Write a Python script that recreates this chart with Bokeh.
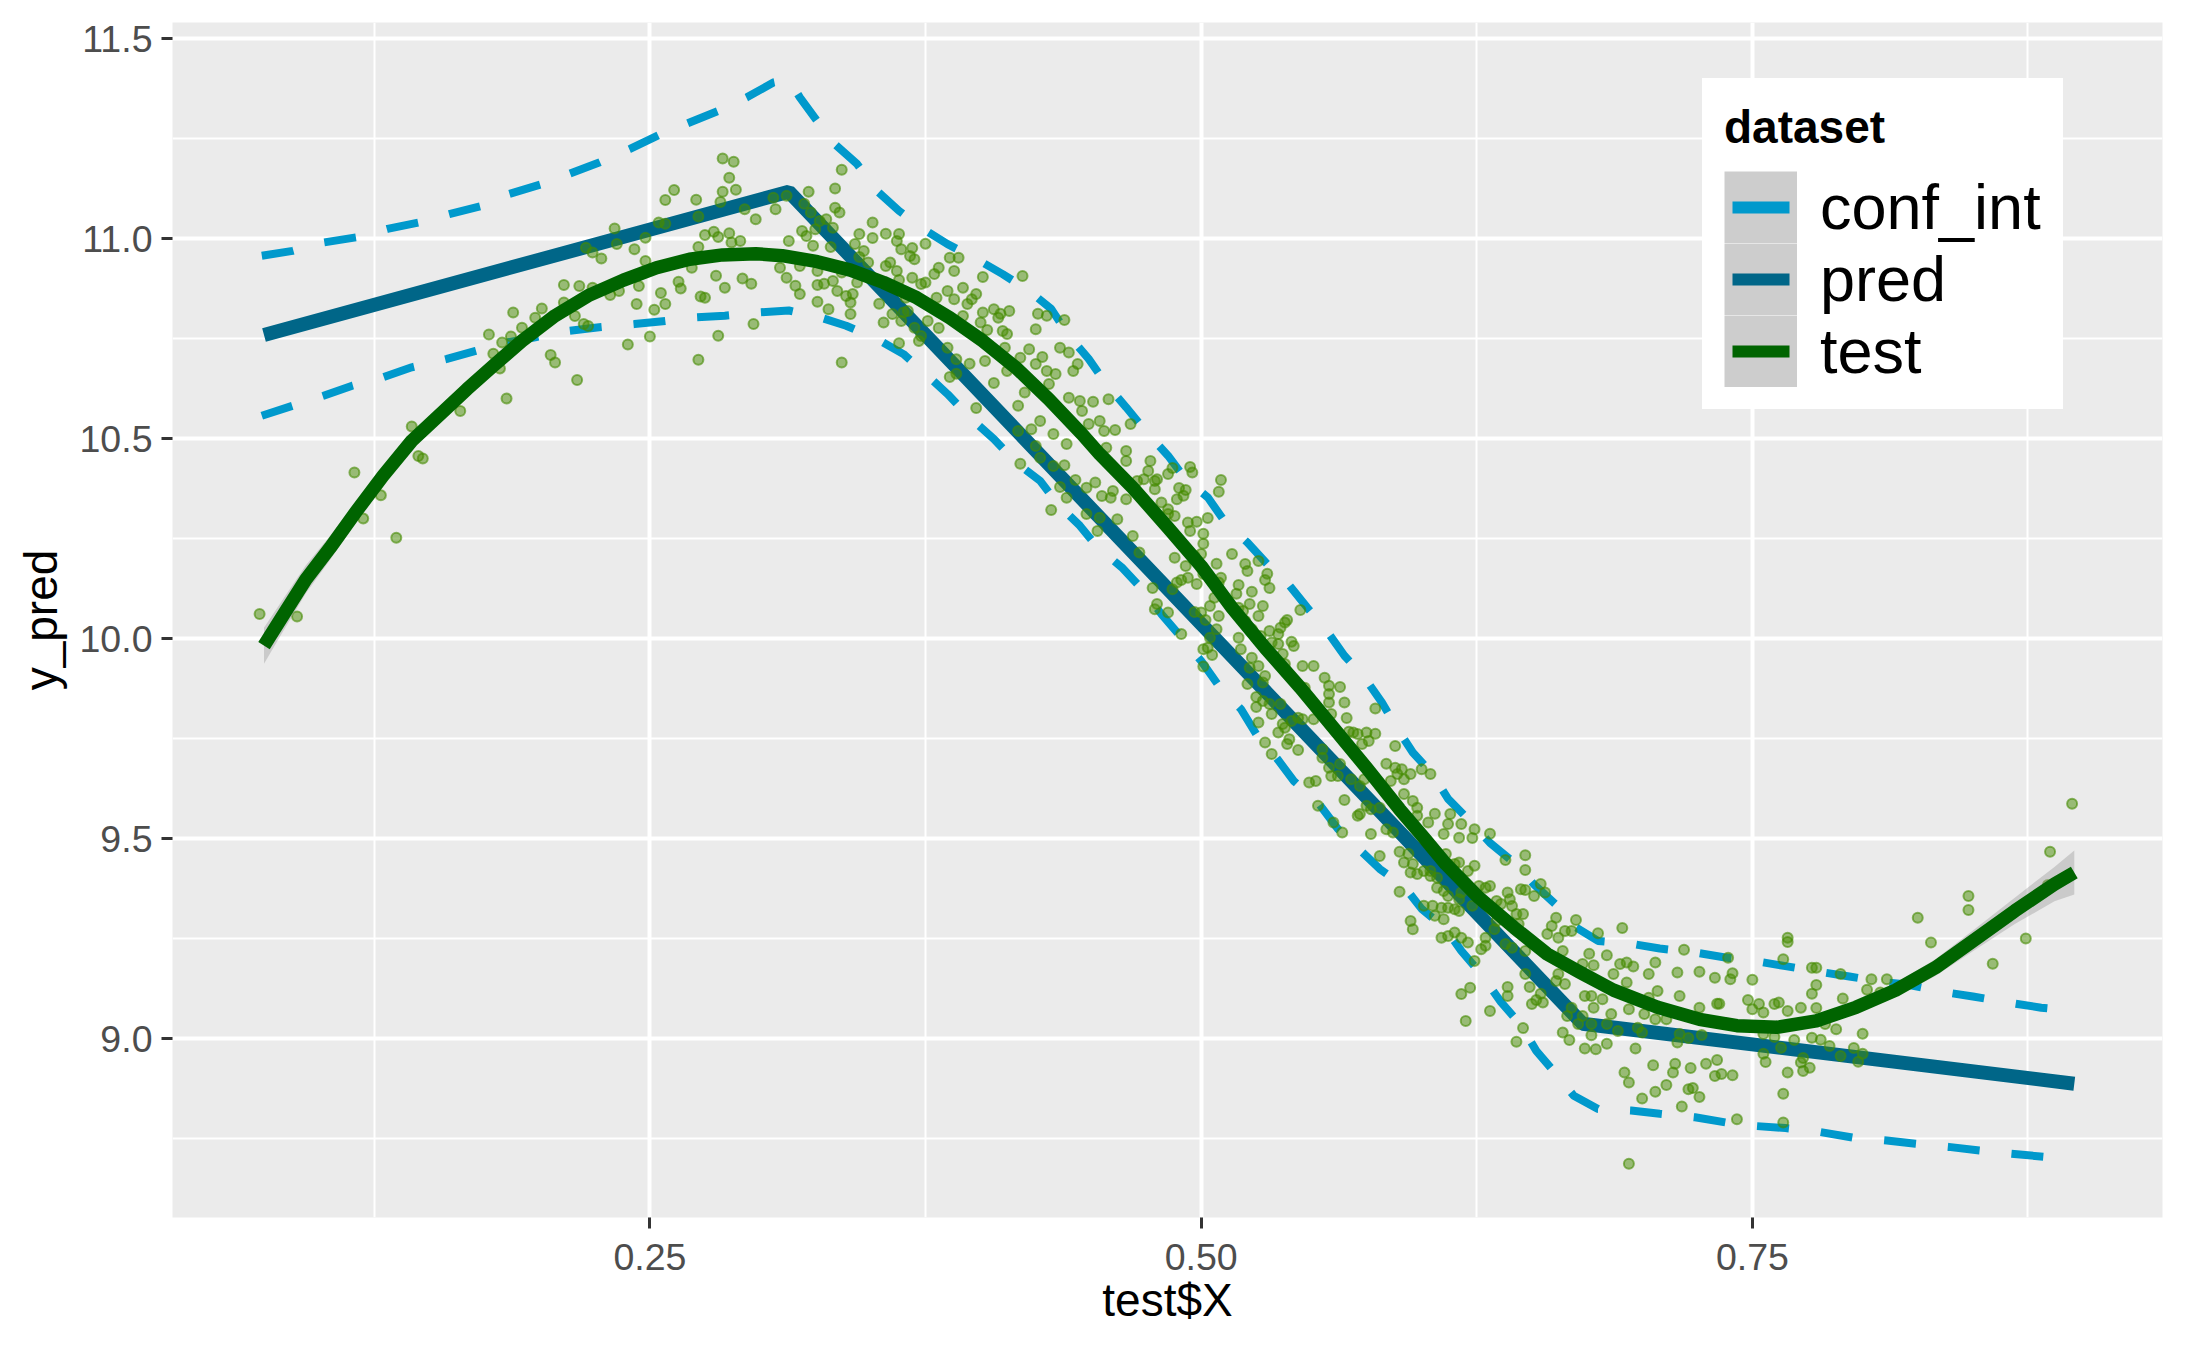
from bokeh.plotting import figure
from bokeh.models import Range1d, FixedTicker, NumeralTickFormatter, Legend, LegendItem
from bokeh.embed import file_html
from bokeh.resources import INLINE

# ---------------- data ----------------
x_ticks = [0.25, 0.50, 0.75]
x_minor = [0.125, 0.375, 0.625, 0.875]
y_ticks = [9.0, 9.5, 10.0, 10.5, 11.0, 11.5]
y_minor = [8.75, 9.25, 9.75, 10.25, 10.75, 11.25]

pred_x = [0.075, 0.313, 0.673, 0.896]
pred_y = [10.759, 11.117, 9.037, 8.887]

conf_up_x = [0.074, 0.088, 0.102, 0.117, 0.131, 0.145, 0.159, 0.174, 0.186, 0.201, 0.213, 0.227,
             0.241, 0.255, 0.268, 0.281, 0.294, 0.306, 0.313, 0.318, 0.333, 0.344, 0.353, 0.363,
             0.374, 0.385, 0.398, 0.410, 0.422, 0.432, 0.440, 0.449, 0.457, 0.466, 0.476, 0.485,
             0.493, 0.503, 0.511, 0.521, 0.530, 0.539, 0.548, 0.557, 0.565, 0.574, 0.582, 0.589,
             0.596, 0.605, 0.612, 0.621, 0.631, 0.641, 0.651, 0.661, 0.670, 0.680, 0.695, 0.708,
             0.724, 0.737, 0.751, 0.765, 0.779, 0.794, 0.808, 0.820, 0.836, 0.850, 0.866, 0.881, 0.895]
conf_up_y = [10.957, 10.969, 10.990, 11.003, 11.024, 11.040, 11.061, 11.082, 11.111, 11.136, 11.161, 11.190,
             11.224, 11.261, 11.290, 11.319, 11.353, 11.390, 11.398, 11.353, 11.240, 11.186, 11.119, 11.069,
             11.024, 10.986, 10.949, 10.911, 10.869, 10.824, 10.757, 10.699, 10.636, 10.578, 10.511, 10.457,
             10.398, 10.353, 10.290, 10.240, 10.186, 10.140, 10.078, 10.019, 9.957, 9.903, 9.840, 9.774,
             9.715, 9.661, 9.599, 9.549, 9.489, 9.444, 9.385, 9.334, 9.278, 9.244, 9.237, 9.225,
             9.215, 9.203, 9.194, 9.181, 9.168, 9.155, 9.142, 9.135, 9.117, 9.105, 9.090, 9.077, 9.070]

conf_lo_x = [0.074, 0.088, 0.102, 0.115, 0.129, 0.142, 0.158, 0.171, 0.185, 0.198, 0.213, 0.227,
             0.243, 0.257, 0.271, 0.284, 0.299, 0.313, 0.327, 0.339, 0.353, 0.365, 0.376, 0.385,
             0.395, 0.406, 0.416, 0.427, 0.435, 0.445, 0.453, 0.464, 0.474, 0.482, 0.491, 0.500,
             0.508, 0.518, 0.525, 0.534, 0.542, 0.553, 0.562, 0.581, 0.592, 0.600, 0.611, 0.618,
             0.627, 0.636, 0.645, 0.652, 0.661, 0.669, 0.680, 0.695, 0.708, 0.724, 0.738, 0.752,
             0.765, 0.780, 0.796, 0.811, 0.824, 0.839, 0.853, 0.867, 0.883, 0.895]
conf_lo_y = [10.557, 10.582, 10.607, 10.632, 10.653, 10.678, 10.699, 10.719, 10.740, 10.753, 10.769, 10.778,
             10.786, 10.794, 10.803, 10.807, 10.815, 10.820, 10.803, 10.782, 10.749, 10.711, 10.657, 10.611,
             10.553, 10.499, 10.440, 10.394, 10.336, 10.282, 10.228, 10.178, 10.119, 10.061, 10.003, 9.944,
             9.882, 9.824, 9.761, 9.703, 9.644, 9.590, 9.524, 9.424, 9.381, 9.324, 9.274, 9.219,
             9.161, 9.091, 9.034, 8.969, 8.911, 8.857, 8.824, 8.820, 8.812, 8.803, 8.790, 8.781,
             8.776, 8.767, 8.752, 8.745, 8.737, 8.729, 8.720, 8.712, 8.704, 8.696]

smooth_x = [0.075, 0.084, 0.094, 0.105, 0.117, 0.129, 0.142, 0.155, 0.167, 0.179, 0.192, 0.207,
            0.222, 0.238, 0.253, 0.268, 0.283, 0.298, 0.310, 0.326, 0.341, 0.356, 0.371, 0.386,
            0.401, 0.416, 0.431, 0.446, 0.454, 0.469, 0.485, 0.500, 0.514, 0.529, 0.545, 0.560,
            0.575, 0.590, 0.601, 0.611, 0.626, 0.642, 0.657, 0.672, 0.687, 0.707, 0.726, 0.743,
            0.761, 0.779, 0.797, 0.815, 0.833, 0.850, 0.869, 0.887, 0.896]
smooth_y = [9.982, 10.061, 10.148, 10.227, 10.319, 10.407, 10.494, 10.561, 10.623, 10.682, 10.744, 10.807,
            10.857, 10.896, 10.927, 10.948, 10.959, 10.962, 10.957, 10.942, 10.921, 10.890, 10.852, 10.802,
            10.744, 10.677, 10.598, 10.511, 10.461, 10.377, 10.277, 10.181, 10.077, 9.977, 9.877, 9.777,
            9.677, 9.573, 9.502, 9.436, 9.352, 9.277, 9.211, 9.165, 9.121, 9.078, 9.048, 9.032,
            9.028, 9.044, 9.078, 9.121, 9.177, 9.244, 9.319, 9.386, 9.415]
smooth_se = [0.045, 0.040, 0.035, 0.030, 0.025, 0.021, 0.018, 0.016, 0.014, 0.013, 0.012, 0.011,
             0.010, 0.010, 0.010, 0.009, 0.009, 0.009, 0.009, 0.009, 0.009, 0.009, 0.009, 0.009,
             0.009, 0.009, 0.009, 0.009, 0.009, 0.009, 0.009, 0.009, 0.009, 0.009, 0.009, 0.009,
             0.009, 0.009, 0.009, 0.009, 0.009, 0.009, 0.009, 0.009, 0.009, 0.009, 0.009, 0.010,
             0.011, 0.012, 0.014, 0.017, 0.021, 0.026, 0.033, 0.043, 0.055]

test_points = [
 (0.073,10.061),(0.090,10.055),(0.116,10.415),(0.120,10.300),(0.128,10.358),(0.135,10.252),(0.142,10.530),
 (0.145,10.456),(0.147,10.450),(0.164,10.569),(0.177,10.760),(0.179,10.712),(0.182,10.675),(0.185,10.600),
 (0.188,10.815),(0.187,10.755),(0.183,10.740),(0.192,10.777),(0.198,10.802),(0.201,10.825),(0.205,10.709),
 (0.207,10.690),(0.211,10.884),(0.211,10.840),(0.216,10.806),(0.217,10.646),(0.218,10.881),(0.220,10.786),
 (0.222,10.781),(0.224,10.877),(0.221,10.977),(0.224,10.965),(0.228,10.950),(0.232,10.859),(0.234,11.025),
 (0.235,10.986),(0.236,10.869),(0.240,10.735),(0.243,10.973),(0.244,10.836),(0.245,10.881),(0.248,11.002),
 (0.248,10.944),(0.250,10.755),(0.252,10.822),(0.255,10.864),(0.254,11.040),(0.257,11.096),(0.257,11.037),
 (0.257,10.836),(0.261,11.121),(0.263,10.892),(0.264,10.875),(0.269,10.927),(0.271,11.097),(0.272,11.055),
 (0.272,10.697),(0.273,10.855),(0.275,10.852),(0.272,10.979),(0.275,11.009),(0.279,11.017),(0.281,11.004),
 (0.280,10.907),(0.281,10.757),(0.282,11.091),(0.283,11.117),(0.283,11.200),(0.284,10.877),(0.286,11.152),
 (0.286,11.013),(0.288,11.192),(0.289,11.122),(0.287,10.990),(0.291,10.994),(0.292,10.900),(0.293,11.073),
 (0.296,10.887),(0.297,10.786),(0.298,11.048),
 (0.307,11.073),(0.306,11.102),(0.312,11.107),(0.309,10.927),(0.312,10.902),(0.313,10.994),(0.316,10.882),
 (0.318,10.861),(0.318,10.931),(0.319,11.019),(0.320,11.087),(0.321,11.006),(0.322,11.117),(0.323,11.065),
 (0.324,10.982),(0.325,11.023),(0.326,10.919),(0.326,10.842),(0.326,10.884),(0.327,11.044),(0.329,10.887),
 (0.330,11.048),(0.331,10.823),(0.332,10.979),(0.333,11.027),(0.333,10.894),(0.334,11.125),(0.334,11.077),
 (0.335,10.869),(0.336,11.065),(0.337,11.172),(0.337,10.690),(0.337,10.915),(0.339,10.856),(0.341,10.811),
 (0.341,10.840),(0.342,10.861),(0.343,10.986),(0.344,10.890),(0.345,10.954),(0.345,11.011),(0.347,10.969),
 (0.349,10.940),(0.351,11.001),(0.351,11.040),(0.354,10.837),(0.356,10.790),(0.357,11.012),(0.357,10.931),
 (0.359,10.940),(0.360,10.811),(0.362,10.994),(0.362,10.919),(0.363,10.896),(0.363,11.011),(0.363,10.738),
 (0.364,10.973),(0.364,10.794),(0.365,10.815),(0.366,10.852),(0.367,10.819),(0.368,10.956),(0.369,10.976),
 (0.369,10.902),(0.370,10.948),(0.370,10.777),(0.371,10.852),(0.372,10.744),(0.373,10.886),(0.373,10.756),
 (0.375,10.890),(0.375,10.987),(0.376,10.794),(0.379,10.911),(0.380,10.852),(0.381,10.927),(0.381,10.776),
 (0.385,10.727),(0.385,10.869),(0.386,10.654),(0.386,10.952),(0.388,10.848),(0.388,10.919),(0.389,10.698),
 (0.389,10.662),(0.390,10.952),(0.392,10.877),(0.392,10.806),(0.394,10.836),(0.395,10.687),(0.396,10.848),
 (0.398,10.861),(0.398,10.576),(0.400,10.790),(0.401,10.815),(0.401,10.904),(0.402,10.694),(0.403,10.771),
 (0.406,10.823),(0.406,10.639),(0.408,10.802),(0.409,10.812),(0.410,10.769),(0.411,10.727),(0.412,10.761),
 (0.412,10.669),(0.413,10.819),(0.417,10.582),(0.417,10.519),(0.418,10.702),(0.418,10.437),(0.419,10.906),
 (0.420,10.615),(0.422,10.723),(0.423,10.523),(0.425,10.481),(0.425,10.686),(0.425,10.773),(0.426,10.812),
 (0.427,10.544),(0.427,10.452),(0.428,10.704),(0.430,10.807),(0.430,10.669),(0.431,10.636),(0.433,10.431),
 (0.433,10.511),(0.434,10.661),(0.432,10.321),(0.436,10.727),(0.436,10.379),(0.438,10.796),(0.438,10.433),
 (0.439,10.486),(0.439,10.352),(0.440,10.602),(0.440,10.715),(0.442,10.669),(0.443,10.396),(0.444,10.686),
 (0.445,10.594),(0.446,10.569),(0.448,10.311),(0.448,10.377),(0.449,10.536),(0.451,10.592),(0.452,10.390),
 (0.453,10.269),(0.454,10.544),(0.454,10.302),(0.455,10.356),(0.456,10.519),(0.457,10.477),(0.458,10.598),
 (0.459,10.352),(0.460,10.369),(0.461,10.521),(0.462,10.298),(0.466,10.348),(0.466,10.444),(0.466,10.469),
 (0.468,10.536),(0.469,10.256),(0.471,10.394),(0.472,10.215),
 (0.477,10.444),(0.476,10.419),(0.474,10.398),(0.479,10.394),(0.480,10.398),(0.479,10.373),(0.482,10.340),
 (0.485,10.323),(0.485,10.411),(0.487,10.426),(0.489,10.348),(0.490,10.376),(0.492,10.357),(0.493,10.371),
 (0.495,10.429),(0.496,10.415),(0.485,10.311),(0.488,10.306),(0.494,10.290),(0.495,10.269),(0.498,10.292),
 (0.501,10.262),(0.501,10.237),(0.503,10.301),(0.500,10.211),(0.497,10.206),(0.491,10.236),(0.488,10.202),
 (0.493,10.181),(0.489,10.140),(0.487,10.123),(0.491,10.146),(0.494,10.152),(0.498,10.136),(0.500,10.177),
 (0.501,10.161),(0.507,10.187),(0.508,10.140),(0.509,10.152),(0.509,10.396),(0.508,10.367),(0.514,10.211),
 (0.517,10.134),(0.516,10.112),(0.520,10.186),(0.521,10.169),(0.523,10.117),(0.526,10.194),(0.529,10.146),
 (0.531,10.126),(0.530,10.162),(0.478,10.126),(0.480,10.086),(0.479,10.073),(0.485,10.065),(0.497,10.066),
 (0.500,10.065),(0.502,10.046),(0.504,10.081),(0.506,10.102),(0.508,10.056),(0.504,10.002),(0.507,10.023),
 (0.503,9.977),(0.505,9.959),(0.501,9.973),(0.491,10.011),(0.501,9.930),(0.517,10.077),(0.519,10.069),
 (0.520,10.044),(0.522,10.086),(0.517,10.002),(0.518,9.973),(0.523,10.023),(0.526,10.056),(0.528,10.081),
 (0.527,10.006),(0.531,10.019),(0.532,9.990),(0.535,10.011),(0.535,9.986),(0.536,10.027),(0.538,10.040),
 (0.539,10.046),(0.541,9.992),(0.542,9.981),(0.545,10.071),(0.523,9.952),(0.522,9.927),(0.526,9.931),
 (0.529,9.906),(0.528,9.890),(0.521,9.886),(0.525,9.854),(0.525,9.829),(0.528,9.844),(0.531,9.836),
 (0.532,9.811),(0.536,9.836),(0.537,9.786),(0.535,9.765),(0.538,9.777),(0.540,9.748),(0.539,9.736),
 (0.529,9.740),(0.526,9.790),(0.532,9.711),(0.544,9.721),(0.541,9.794),(0.544,9.802),(0.546,9.931),
 (0.551,9.931),(0.538,9.936),(0.537,9.961),(0.547,9.877),(0.546,9.798),(0.551,9.798),(0.555,9.723),
 (0.555,9.702),(0.556,9.902),(0.558,9.882),(0.558,9.861),(0.558,9.840),(0.559,9.811),(0.563,9.879),
 (0.565,9.840),(0.566,9.801),(0.567,9.767),(0.569,9.765),(0.571,9.761),(0.575,9.765),(0.579,9.762),
 (0.573,9.736),(0.576,9.744),(0.579,9.825),(0.588,9.731),(0.558,9.677),(0.559,9.656),(0.562,9.656),
 (0.563,9.686),(0.565,9.596),(0.568,9.648),(0.571,9.557),(0.572,9.631),(0.574,9.648),(0.575,9.582),
 (0.577,9.573),(0.581,9.577),(0.584,9.687),(0.586,9.644),(0.588,9.677),(0.589,9.661),(0.591,9.673),
 (0.592,9.648),(0.595,9.661),(0.592,9.611),(0.596,9.594),(0.598,9.577),(0.598,9.557),(0.603,9.540),
 (0.606,9.562),(0.604,9.661),(0.600,9.673),(0.584,9.523),(0.587,9.515),(0.577,9.511),(0.572,9.561),
 (0.549,9.640),(0.552,9.644),(0.553,9.582),(0.560,9.540),(0.613,9.561),(0.612,9.536),(0.618,9.536),
 (0.624,9.523),(0.631,9.512),(0.610,9.511),(0.617,9.502),(0.623,9.501),(0.564,9.515),
 (0.581,9.456),(0.590,9.467),(0.594,9.462),(0.592,9.440),(0.596,9.436),(0.595,9.415),(0.598,9.411),
 (0.601,9.419),(0.604,9.419),(0.604,9.406),(0.607,9.402),(0.611,9.461),(0.612,9.436),(0.615,9.436),
 (0.617,9.440),(0.621,9.419),(0.624,9.432),(0.590,9.367),(0.607,9.377),(0.610,9.369),(0.612,9.356),
 (0.617,9.348),(0.618,9.365),(0.601,9.332),(0.605,9.332),(0.609,9.327),(0.612,9.327),(0.615,9.323),
 (0.617,9.319),(0.606,9.307),(0.610,9.298),(0.595,9.294),(0.596,9.273),(0.623,9.332),(0.615,9.265),
 (0.612,9.256),(0.609,9.252),(0.618,9.252),(0.621,9.240),(0.629,9.252),(0.629,9.232),(0.627,9.223),
 (0.624,9.194),(0.622,9.127),(0.618,9.111),(0.631,9.069),(0.620,9.044),(0.626,9.381),(0.629,9.377),
 (0.631,9.381),(0.634,9.344),(0.633,9.273),(0.634,9.294),
 (0.647,9.458),(0.647,9.421),(0.638,9.446),(0.639,9.365),(0.645,9.373),(0.647,9.371),(0.651,9.356),
 (0.640,9.348),(0.641,9.331),(0.643,9.311),(0.646,9.311),(0.636,9.336),(0.644,9.286),(0.654,9.386),
 (0.656,9.365),(0.661,9.302),(0.670,9.296),(0.659,9.281),(0.657,9.261),(0.662,9.252),(0.665,9.269),
 (0.668,9.269),(0.680,9.263),(0.691,9.276),(0.638,9.236),(0.641,9.227),(0.647,9.219),(0.664,9.219),
 (0.676,9.212),(0.684,9.208),(0.673,9.186),(0.678,9.183),(0.690,9.186),(0.693,9.190),(0.696,9.180),
 (0.706,9.190),(0.703,9.161),(0.687,9.161),(0.662,9.161),(0.647,9.161),(0.661,9.144),(0.665,9.136),
 (0.693,9.140),(0.639,9.129),(0.649,9.129),(0.639,9.106),(0.654,9.112),(0.652,9.096),(0.650,9.086),
 (0.655,9.090),(0.674,9.106),(0.677,9.106),(0.682,9.098),(0.668,9.077),(0.678,9.077),(0.666,9.056),
 (0.673,9.056),(0.671,9.036),(0.677,9.036),(0.686,9.061),(0.684,9.036),(0.689,9.019),(0.694,9.073),
 (0.701,9.061),(0.707,9.119),(0.703,9.102),(0.706,9.048),(0.711,9.048),(0.698,9.027),(0.700,9.015),
 (0.697,8.975),(0.664,9.015),(0.667,8.996),(0.643,8.992),(0.646,9.026),(0.674,8.975),(0.679,8.973),
 (0.684,8.987),(0.677,9.008),(0.717,9.011),(0.716,8.990),(0.721,9.001),(0.727,9.009),(0.726,9.077),
 (0.717,9.106),(0.716,9.165),(0.726,9.167),(0.733,9.152),(0.740,9.148),(0.741,9.163),(0.739,9.202),
 (0.719,9.222),(0.734,9.087),(0.735,9.087),(0.748,9.096),(0.750,9.073),(0.753,9.086),(0.755,9.065),
 (0.750,9.147),(0.760,9.086),(0.762,9.090),(0.766,9.069),(0.766,9.252),(0.766,9.241),(0.764,9.198),
 (0.777,9.177),(0.779,9.177),(0.779,9.134),(0.777,9.112),(0.772,9.077),(0.779,9.076),(0.783,9.036),
 (0.788,9.023),(0.790,9.161),(0.791,9.100),(0.802,9.122),(0.804,9.148),(0.811,9.148),(0.808,9.115),
 (0.800,9.012),(0.796,8.976),(0.798,8.942),(0.800,8.962),(0.790,8.956),(0.785,8.981),(0.777,9.002),
 (0.781,8.997),(0.769,8.996),(0.763,8.977),(0.755,8.962),(0.756,8.941),(0.755,9.011),(0.760,9.004),
 (0.705,8.933),(0.715,8.937),(0.714,8.915),(0.722,8.926),(0.729,8.937),(0.734,8.946),(0.733,8.906),
 (0.736,8.911),(0.741,8.908),(0.692,8.915),(0.694,8.890),(0.711,8.884),(0.706,8.867),(0.721,8.873),
 (0.723,8.876),(0.726,8.854),(0.700,8.850),(0.718,8.830),(0.743,8.798),(0.764,8.862),(0.764,8.790),
 (0.766,8.915),(0.772,8.940),(0.773,8.951),(0.773,8.919),(0.776,8.927),(0.694,8.687),(0.825,9.302),
 (0.831,9.240),(0.848,9.356),(0.848,9.321),(0.859,9.187),(0.874,9.250),(0.885,9.467),(0.884,9.384),
 (0.895,9.587),
]
test_x = [pt[0] for pt in test_points]
test_y = [pt[1] for pt in test_points]

ribbon_lo = [y - s for y, s in zip(smooth_y, smooth_se)]
ribbon_hi = [y + s for y, s in zip(smooth_y, smooth_se)]

FONT = "Liberation Sans"
NAN = float("nan")

p = figure(width=2187, height=1350, output_backend="svg", toolbar_location=None,
           x_range=Range1d(0.0335, 0.936), y_range=Range1d(8.5525, 11.54),
           min_border_left=172, min_border_right=25, min_border_top=22, min_border_bottom=133,
           x_axis_label="test$X", y_axis_label="y_pred")
p.background_fill_color = "#EBEBEB"
p.border_fill_color = "white"
p.outline_line_color = None

p.xaxis.ticker = FixedTicker(ticks=x_ticks, minor_ticks=x_minor)
p.yaxis.ticker = FixedTicker(ticks=y_ticks, minor_ticks=y_minor)
p.xgrid.ticker = FixedTicker(ticks=x_ticks, minor_ticks=x_minor)
p.ygrid.ticker = FixedTicker(ticks=y_ticks, minor_ticks=y_minor)
p.xaxis.formatter = NumeralTickFormatter(format="0.00")
p.yaxis.formatter = NumeralTickFormatter(format="0.0")

for g in (p.xgrid, p.ygrid):
    g.grid_line_color = "white"
    g.grid_line_width = 4
    g.minor_grid_line_color = "white"
    g.minor_grid_line_width = 2

for ax in (p.xaxis, p.yaxis):
    ax.axis_line_color = None
    ax.major_tick_line_color = "#333333"
    ax.major_tick_line_width = 3
    ax.major_tick_out = 11
    ax.major_tick_in = 0
    ax.minor_tick_line_color = None
    ax.major_label_text_color = "#4D4D4D"
    ax.major_label_text_font_size = "37.5px"
    ax.major_label_text_font = FONT
    ax.axis_label_text_font_size = "46px"
    ax.axis_label_text_font = FONT
    ax.axis_label_text_font_style = "normal"
    ax.axis_label_text_color = "black"
p.yaxis.major_label_standoff = 9
p.yaxis.axis_label_standoff = 10
p.xaxis.major_label_standoff = 15
p.xaxis.axis_label_standoff = 1

# conf_int
p.line(conf_up_x, conf_up_y, line_color="#0099CC", line_width=8, line_dash="32 32")
p.line(conf_lo_x, conf_lo_y, line_color="#0099CC", line_width=8, line_dash="32 32")
# pred
p.line(pred_x, pred_y, line_color="#006688", line_width=14)
# test points
p.scatter(test_x, test_y, size=10, fill_color="#458B00", fill_alpha=0.5,
          line_color="#458B00", line_alpha=0.6, line_width=2)
# smooth
p.varea(x=smooth_x, y1=ribbon_lo, y2=ribbon_hi, fill_color="#999999", fill_alpha=0.4)
p.line(smooth_x, smooth_y, line_color="#006400", line_width=13.5, line_join="round")

# legend proxies (NaN data: nothing drawn in the panel)
KEY_DASH = "0 8 57 100"
key_bg = p.line([NAN], [NAN], line_color="#CDCDCD", line_width=72)
k_conf = p.line([NAN], [NAN], line_color="#0099CC", line_width=12, line_dash=KEY_DASH)
k_pred = p.line([NAN], [NAN], line_color="#006688", line_width=12, line_dash=KEY_DASH)
k_test = p.line([NAN], [NAN], line_color="#006400", line_width=12, line_dash=KEY_DASH)

legend = Legend(items=[LegendItem(label="conf_int", renderers=[key_bg, k_conf]),
                       LegendItem(label="pred", renderers=[key_bg, k_pred]),
                       LegendItem(label="test", renderers=[key_bg, k_test])],
                location=(1530, 808), title="dataset")
legend.title_text_font = FONT
legend.title_text_font_size = "46px"
legend.title_text_font_style = "bold"
legend.title_text_color = "black"
legend.title_standoff = 17
legend.label_text_font = FONT
legend.label_text_font_size = "63px"
legend.label_text_color = "black"
legend.label_standoff = 23
legend.label_height = 72
legend.glyph_width = 73
legend.glyph_height = 72
legend.spacing = 0
legend.padding = 22
legend.margin = 0
legend.border_line_color = "white"
legend.border_line_alpha = 0.0
legend.background_fill_color = "white"
legend.background_fill_alpha = 1.0
p.add_layout(legend)

open("out.html", "w").write(file_html(p, INLINE))
